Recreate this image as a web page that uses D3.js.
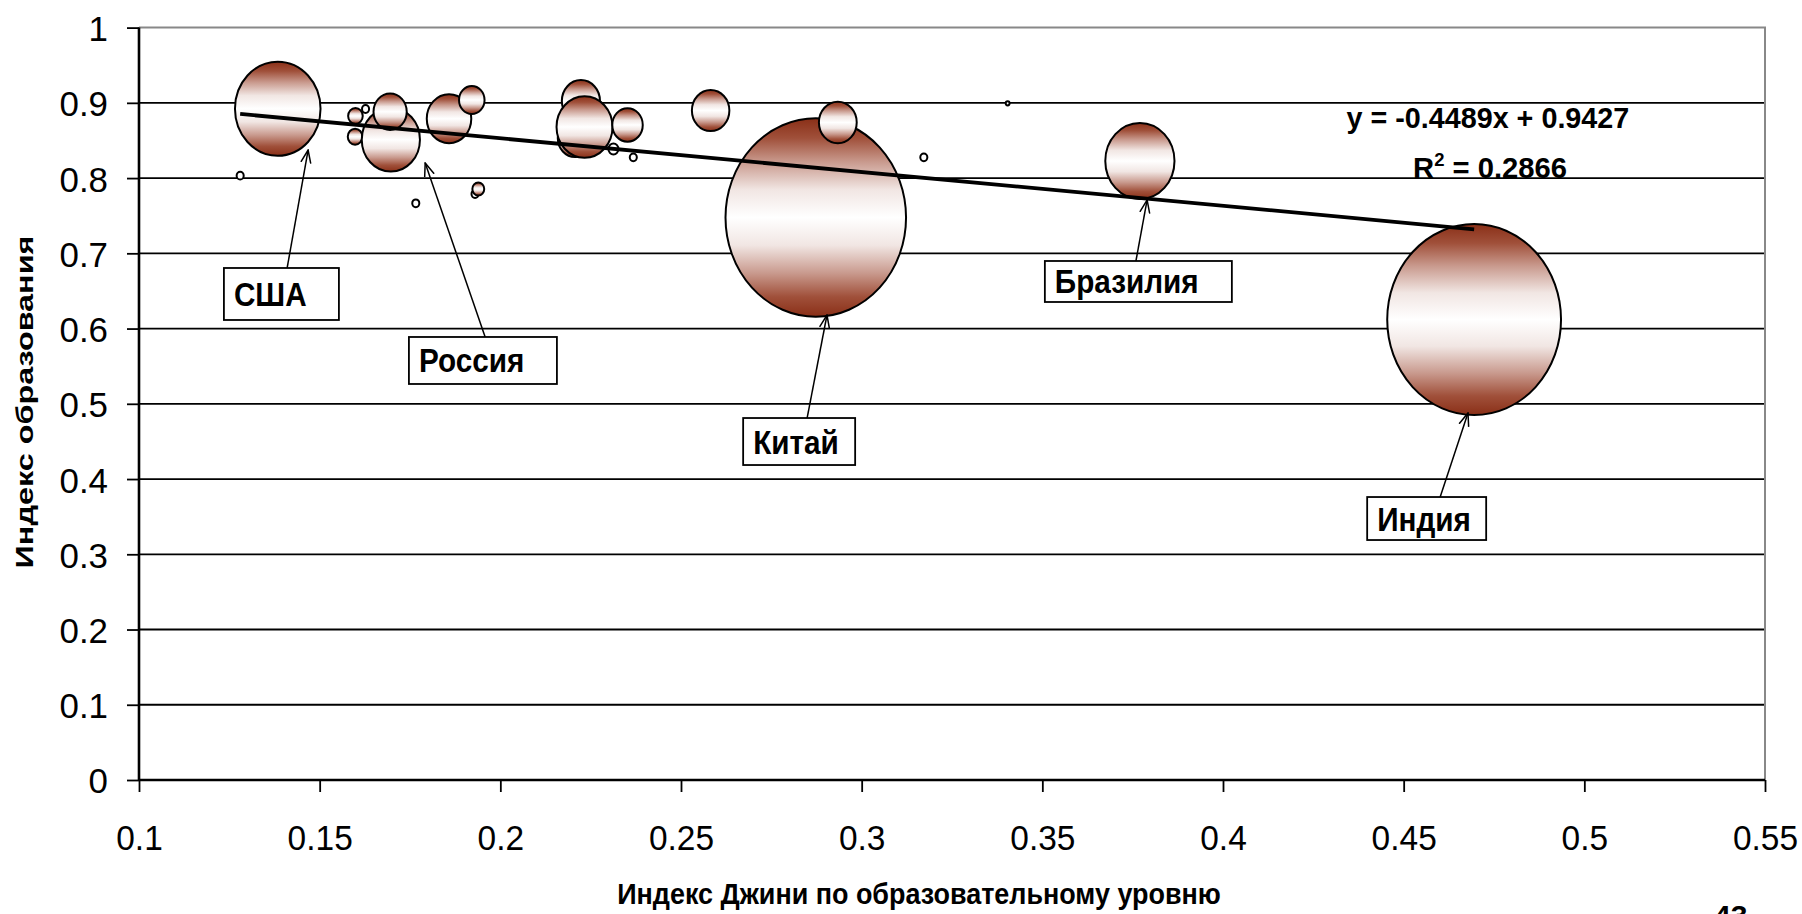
<!DOCTYPE html>
<html><head><meta charset="utf-8">
<script src="https://cdn.jsdelivr.net/npm/d3@7"></script>
<style>
body{margin:0;background:#fff}
svg{display:block}
text{font-family:"Liberation Sans",Arial,sans-serif}
</style>
</head><body>
<svg id="chart" width="1802" height="914"></svg>
<script>
// ---------- data ----------
const bubbleNames = ["США","","","","","Россия","","","","","","","","","","","","","","Китай","","","","Бразилия","Индия"];
const giniIndex  = [0.1384,0.1280,0.1599,0.1598,0.1627,0.1697,0.1695,0.1766,0.1858,0.1921,0.1930,0.1939,0.2223,0.2207,0.2233,0.2313,0.2352,0.2368,0.2582,0.2873,0.2934,0.3172,0.3404,0.3770,0.4695];
const eduIndex   = [0.8922,0.8032,0.8825,0.8550,0.8918,0.8511,0.8882,0.7665,0.8789,0.9038,0.7788,0.7855,0.9024,0.8533,0.8679,0.8386,0.8706,0.8276,0.8898,0.7476,0.8739,0.8276,0.8993,0.8227,0.6120];
const population = [292,2,8.5,8.5,2,135,44,2,79,26,2,5.6,58,48,125,4,37,2,56,1300,57,2,0.6,191,1205];
const xTicks = [0.1,0.15,0.2,0.25,0.3,0.35,0.4,0.45,0.5,0.55];
const yTicks = [0,0.1,0.2,0.3,0.4,0.5,0.6,0.7,0.8,0.9,1];
const trendSlope = -0.4489, trendIntercept = 0.9427, trendR2 = 0.2866;
const xTitle = "Индекс Джини по образовательному уровню";
const yTitle = "Индекс образования";
// callout annotations (data coordinates)
const calloutText = ["США","Россия","Китай","Бразилия","Индия"];
const calloutBoxX = [0.1235,0.1747,0.2672,0.3507,0.4399];
const calloutBoxY = [0.6805,0.5888,0.4811,0.6898,0.3761];
const calloutArrowX = [0.1410,0.1958,0.2849,0.3759,0.4601];
const calloutTipX = [0.1468,0.1792,0.2904,0.3790,0.4678];
const calloutTipY = [0.8373,0.8200,0.6180,0.7709,0.4878];

// ---------- layout ----------
const L = {left:139, right:1765, top:27.6, bottom:780};
const boxW = [115,148,112,187,119], boxH = [52,47,47,41,43];

const svg = d3.select("#chart");
const x = d3.scaleLinear().domain([0.1,0.55]).range([L.left,L.right]);
const y = d3.scaleLinear().domain([0,1]).range([L.bottom,L.top]);
const r = d3.scaleSqrt().domain([0,1300]).range([0,99.2]);
const aspect = 0.91;

// gradient
const defs = svg.append("defs");
const grad = defs.append("linearGradient").attr("id","bg").attr("x1",0).attr("y1",0).attr("x2",0).attr("y2",1);
[[0,"#8a2f17"],[0.1,"#a0503a"],[0.22,"#c99a8e"],[0.36,"#f1e6e3"],[0.5,"#ffffff"],[0.64,"#f1e6e3"],[0.78,"#c99a8e"],[0.9,"#a0503a"],[1,"#8a2f17"]].forEach(s=>
  grad.append("stop").attr("offset",s[0]).attr("stop-color",s[1]));
defs.append("marker").attr("id","arr").attr("markerUnits","userSpaceOnUse")
  .attr("viewBox","0 0 14 12").attr("refX",13).attr("refY",6)
  .attr("markerWidth",14).attr("markerHeight",12).attr("orient","auto")
  .append("path").attr("d","M0,1 L13,6 L0,11").attr("fill","none").attr("stroke","#000").attr("stroke-width",1.5);

// gridlines
svg.append("g").selectAll("line").data(yTicks.filter(v=>v>0 && v<1)).join("line")
  .attr("x1",L.left).attr("x2",L.right).attr("y1",d=>y(d)).attr("y2",d=>y(d))
  .attr("stroke","#000").attr("stroke-width",1.8);
// top/right border
svg.append("path").attr("d",`M${L.left},${y(1)}H${x(0.55)}V${y(0)}`)
  .attr("fill","none").attr("stroke","#888").attr("stroke-width",2);

// axes
const xAxis = svg.append("g").attr("transform",`translate(0,${L.bottom})`)
  .call(d3.axisBottom(x).tickValues(xTicks).tickSize(12).tickPadding(0).tickFormat(d=>String(d)));
xAxis.select(".domain").attr("stroke-width",2.6).attr("d",`M${L.left},0H${L.right}`);
xAxis.selectAll(".tick line").attr("stroke-width",1.8);
xAxis.selectAll(".tick text").attr("font-size",36).attr("fill","#000")
  .attr("y",0).attr("dy",0).attr("transform","translate(0,70) scale(0.93,1)");

const yAxis = svg.append("g").attr("transform",`translate(${L.left},0)`)
  .call(d3.axisLeft(y).tickValues(yTicks).tickSize(12).tickFormat(d=>String(d)));
yAxis.select(".domain").attr("stroke-width",2.6).attr("d",`M0,${L.top}V${L.bottom}`);
yAxis.selectAll(".tick line").attr("stroke-width",1.8);
yAxis.selectAll(".tick text").attr("font-size",36).attr("fill","#000")
  .attr("x",-31/0.97).attr("dy","0.36em").attr("transform","scale(0.97,1)");

// bubbles
const data = giniIndex.map((g,i)=>({name:bubbleNames[i],g,e:eduIndex[i],p:population[i]}));
svg.append("g").selectAll("ellipse").data(data).join("ellipse")
  .attr("cx",d=>x(d.g)).attr("cy",d=>y(d.e))
  .attr("ry",d=>Math.max(2,r(d.p))).attr("rx",d=>Math.max(2,r(d.p))*aspect)
  .attr("fill",d=>r(d.p)>6?"url(#bg)":"#fff").attr("stroke","#000").attr("stroke-width",2);

// trend line
const gx = d3.extent(giniIndex);
svg.append("line").attr("x1",x(gx[0])).attr("y1",y(trendIntercept+trendSlope*gx[0]))
  .attr("x2",x(gx[1])).attr("y2",y(trendIntercept+trendSlope*gx[1]))
  .attr("stroke","#000").attr("stroke-width",3.8).attr("stroke-linecap","butt");

// helper to fit a text horizontally to a width
function fit(t, cx, by, w, rot){
  const n = t.node().getComputedTextLength();
  t.attr("transform",`translate(${cx},${by})${rot?" rotate(-90)":""} scale(${w/n},1)`);
}
const eq = svg.append("text").attr("text-anchor","middle").attr("font-weight","bold").attr("font-size",30)
  .text(`y = ${trendSlope}x + ${trendIntercept}`);
fit(eq, x(0.4733), y(0.8666), 283);
const r2 = svg.append("text").attr("text-anchor","middle").attr("font-weight","bold").attr("font-size",30);
r2.append("tspan").text("R");
r2.append("tspan").text("2").attr("font-size",19).attr("dy",-12);
r2.append("tspan").text(` = ${trendR2}`).attr("dy",12);
fit(r2, x(0.4739), y(0.8001), 154);

// callouts
calloutText.forEach((t,i)=>{
  const bx = x(calloutBoxX[i]), by = y(calloutBoxY[i]);
  svg.append("line").attr("x1",x(calloutArrowX[i])).attr("y1",by)
    .attr("x2",x(calloutTipX[i])).attr("y2",y(calloutTipY[i]))
    .attr("stroke","#000").attr("stroke-width",1.5).attr("marker-end","url(#arr)");
  svg.append("rect").attr("x",bx).attr("y",by).attr("width",boxW[i]).attr("height",boxH[i])
    .attr("fill","#fff").attr("stroke","#000").attr("stroke-width",1.8);
  svg.append("text").attr("font-weight","bold").attr("font-size",33)
    .attr("transform",`translate(${bx+10},${by+boxH[i]/2+12}) scale(0.9,1)`).text(t);
});

// axis titles
const xt = svg.append("text").attr("text-anchor","middle").attr("font-weight","bold").attr("font-size",30).text(xTitle);
fit(xt, 919, 904, 604);
const yt = svg.append("text").attr("text-anchor","middle").attr("font-weight","bold").attr("font-size",24).text(yTitle);
fit(yt, 33, 402, 333, true);

// page number (cut off at bottom in the original slide)
svg.append("text").attr("font-weight","bold").attr("font-size",30).attr("x",1714).attr("y",926).text("43");
</script>
</body></html>
